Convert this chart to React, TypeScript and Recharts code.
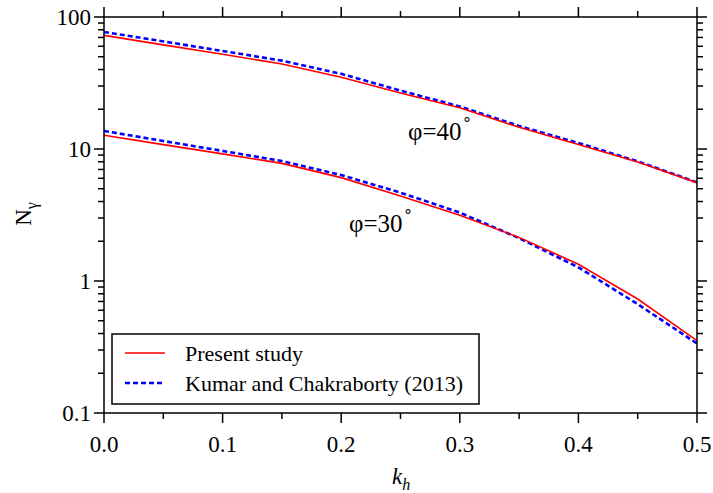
import React from 'react';
import { LineChart, Line, XAxis, YAxis } from 'recharts';

// horizontal seismic coefficient
const KH = [0, 0.05, 0.1, 0.15, 0.2, 0.25, 0.3, 0.35, 0.4, 0.45, 0.5];

// N_gamma, phi = 40 deg
const PRESENT_40 = [72.6, 61.5, 52.2, 44.1, 35.0, 26.6, 20.5, 14.6, 10.8, 7.96, 5.56];
const KUMAR_40 = [77.0, 65.3, 55.3, 46.7, 37.1, 27.7, 21.0, 14.95, 11.1, 8.06, 5.59];

// N_gamma, phi = 30 deg
const PRESENT_30 = [12.7, 10.8, 9.18, 7.78, 6.07, 4.4, 3.15, 2.14, 1.34, 0.73, 0.353];
const KUMAR_30 = [13.7, 11.5, 9.67, 8.1, 6.35, 4.67, 3.3, 2.11, 1.27, 0.668, 0.336];

const X_TICKS = [0, 0.05, 0.1, 0.15, 0.2, 0.25, 0.3, 0.35, 0.4, 0.45, 0.5];
const X_MAJOR = [0, 0.1, 0.2, 0.3, 0.4, 0.5];
const X_LABELS = ['0.0', '0.1', '0.2', '0.3', '0.4', '0.5'];

const Y_TICKS = [
  0.1, 0.2, 0.3, 0.4, 0.5, 0.6, 0.7, 0.8, 0.9,
  1, 2, 3, 4, 5, 6, 7, 8, 9,
  10, 20, 30, 40, 50, 60, 70, 80, 90, 100,
];
const Y_MAJOR = [0.1, 1, 10, 100];
const Y_LABELS = ['0.1', '1', '10', '100'];

const LEGEND_LABELS = ['Present study', 'Kumar and Chakraborty (2013)'];

const FONT = 'Liberation Serif, serif';
const RED = '#ff0000';
const BLUE = '#0000ff';
const TICK = 6; // native tick length (minor); majors get a 4px extension

const data = KH.map((k, i) => ({
  kh: k,
  p40: PRESENT_40[i],
  k40: KUMAR_40[i],
  p30: PRESENT_30[i],
  k30: KUMAR_30[i],
}));

// with tickMargin 0 the tick props sit at the outer end of the native tick line
const makeXTick = (dir: number, showLabel: boolean) => (props: any) => {
  const x = Number(props.x);
  const y = Number(props.y);
  const idx = X_MAJOR.indexOf(props.payload.value);
  if (idx < 0) return <g />;
  const axisY = y - dir * TICK;
  return (
    <g>
      <line x1={x} x2={x} y1={y} y2={y + dir * 4} stroke="#000" strokeWidth={1.5} />
      {showLabel && (
        <text x={x} y={axisY + 39} textAnchor="middle" fontFamily={FONT} fontSize={23} fill="#000">
          {X_LABELS[idx]}
        </text>
      )}
    </g>
  );
};

const makeYTick = (dir: number, showLabel: boolean) => (props: any) => {
  const x = Number(props.x);
  const y = Number(props.y);
  const idx = Y_MAJOR.indexOf(props.payload.value);
  if (idx < 0) return <g />;
  const axisX = x - dir * TICK;
  return (
    <g>
      <line x1={x} x2={x + dir * 4} y1={y} y2={y} stroke="#000" strokeWidth={1.5} />
      {showLabel && (
        <text x={axisX - 13} y={y + 8} textAnchor="end" fontFamily={FONT} fontSize={23} fill="#000">
          {Y_LABELS[idx]}
        </text>
      )}
    </g>
  );
};

const Overlay = () => (
  <svg
    width={713}
    height={493}
    style={{ position: 'absolute', left: 0, top: 0, pointerEvents: 'none' }}
    fontFamily={FONT}
  >
    <text x={408} y={140} fontSize={25} fill="#000">
      φ=40
      <tspan dy={-15} fontSize={16}>∘</tspan>
    </text>
    <text x={349} y={232} fontSize={25} fill="#000">
      φ=30
      <tspan dy={-15} fontSize={16}>∘</tspan>
    </text>
    <text transform="rotate(-90)" x={-214} y={31} fontSize={23} textAnchor="middle" fill="#000">
      N<tspan dy={6} fontSize={16}>γ</tspan>
    </text>
    <text x={392} y={484} fontSize={23} fontStyle="italic" fill="#000">
      k<tspan dy={6} fontSize={16}>h</tspan>
    </text>
    <rect x={112} y={334} width={367} height={70} fill="#fff" stroke="#000" strokeWidth={1.5} />
    {LEGEND_LABELS.map((label, i) => (
      <g key={label}>
        <line
          x1={125}
          x2={165}
          y1={353 + i * 30}
          y2={353 + i * 30}
          stroke={i === 0 ? RED : BLUE}
          strokeWidth={i === 0 ? 1.6 : 2.6}
          strokeDasharray={i === 0 ? undefined : '5 3'}
        />
        <text x={185} y={361 + i * 30} fontSize={22} fill="#000">
          {label}
        </text>
      </g>
    ))}
  </svg>
);

const axisStyle = { stroke: '#000', strokeWidth: 1.5 };
const tickStyle = { stroke: '#000', strokeWidth: 1.5 };

export default function App() {
  return (
    <div style={{ position: 'absolute', left: 0, top: 0, width: 713, height: 493, background: '#fff' }}>
      <LineChart
        width={713}
        height={493}
        data={data}
        margin={{ top: 16, right: 15, bottom: 40, left: 44 }}
      >
        <XAxis
          dataKey="kh"
          type="number"
          domain={[0, 0.5]}
          ticks={X_TICKS}
          interval={0}
          height={40}
          tickSize={TICK}
          tickMargin={0}
          tickLine={tickStyle}
          axisLine={axisStyle}
          tick={makeXTick(1, true)}
          allowDataOverflow
        />
        <XAxis
          xAxisId="top"
          dataKey="kh"
          orientation="top"
          type="number"
          domain={[0, 0.5]}
          ticks={X_TICKS}
          interval={0}
          height={1}
          tickSize={TICK}
          tickMargin={0}
          tickLine={tickStyle}
          axisLine={axisStyle}
          tick={makeXTick(-1, false)}
          allowDataOverflow
        />
        <YAxis
          type="number"
          scale="log"
          domain={[0.1, 100]}
          ticks={Y_TICKS}
          interval={0}
          width={60}
          tickSize={TICK}
          tickMargin={0}
          tickLine={tickStyle}
          axisLine={axisStyle}
          tick={makeYTick(-1, true)}
          allowDataOverflow
        />
        <YAxis
          yAxisId="right"
          orientation="right"
          type="number"
          scale="log"
          domain={[0.1, 100]}
          ticks={Y_TICKS}
          interval={0}
          width={1}
          tickSize={TICK}
          tickMargin={0}
          tickLine={tickStyle}
          axisLine={axisStyle}
          tick={makeYTick(1, false)}
          allowDataOverflow
        />
        <Line dataKey="k40" stroke={BLUE} strokeWidth={2.6} strokeDasharray="5 3" dot={false} isAnimationActive={false} />
        <Line dataKey="k30" stroke={BLUE} strokeWidth={2.6} strokeDasharray="5 3" dot={false} isAnimationActive={false} />
        <Line dataKey="p40" stroke={RED} strokeWidth={1.6} dot={false} isAnimationActive={false} />
        <Line dataKey="p30" stroke={RED} strokeWidth={1.6} dot={false} isAnimationActive={false} />
      </LineChart>
      <Overlay />
    </div>
  );
}
